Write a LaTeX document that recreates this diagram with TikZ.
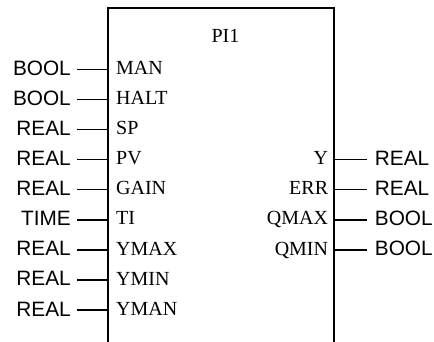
\documentclass[tikz,border=0pt]{standalone}
\usepackage{fontspec}
\setmainfont{Liberation Serif}
\newfontfamily\typefont{Liberation Sans}
\begin{document}
\begin{tikzpicture}[x=1pt,y=-1pt,
  pinline/.style={line width=1.5pt},
  blockline/.style={line width=1.8pt},
  typelbl/.style={font=\typefont\fontsize{20.8}{25}\selectfont, inner ysep=0pt,
    text height=14.9pt, text depth=3pt},
  pinname/.style={font=\fontsize{20}{24}\selectfont, inner ysep=0pt,
    text height=13.3pt, text depth=3pt},
  intype/.style={typelbl, anchor=east, inner xsep=6pt},
  outtype/.style={typelbl, anchor=west, inner xsep=8pt},
  inname/.style={pinname, anchor=west, inner xsep=8pt},
  outname/.style={pinname, anchor=east, inner xsep=6pt}]
\useasboundingbox (0,0) rectangle (434,342);

% function block outline (open at the bottom)
\coordinate (bl) at (108,345);
\coordinate (tl) at (108,7.8);
\coordinate (tr) at (334.3,7.8);
\coordinate (br) at (334.3,345);
\draw[blockline] (bl) -- (tl) -- (tr) -- (br);
\node[font=\fontsize{20}{24}\selectfont] (title) at (225.5,35.5) {PI1};

% inputs
\foreach \i/\typ/\nm in {0/BOOL/MAN, 1/BOOL/HALT, 2/REAL/SP, 3/REAL/PV,
    4/REAL/GAIN, 5/TIME/TI, 6/REAL/YMAX, 7/REAL/YMIN, 8/REAL/YMAN} {
  \coordinate (in\i) at (108, 69.3+30.1*\i);
  \node[intype] (intype\i) at (77, 69.3+30.1*\i) {\typ};
  \node[inname] (inname\i) at (in\i) {\nm};
  \draw[pinline] (intype\i.east) -- (in\i);
}

% outputs
\foreach \i/\typ/\nm in {3/REAL/Y, 4/REAL/ERR, 5/BOOL/QMAX, 6/BOOL/QMIN} {
  \coordinate (out\i) at (334.3, 69.3+30.1*\i);
  \node[outname] (outname\i) at (out\i) {\nm};
  \node[outtype] (outtype\i) at (366.7, 69.3+30.1*\i) {\typ};
  \draw[pinline] (out\i) -- (outtype\i.west);
}
\end{tikzpicture}
\end{document}
